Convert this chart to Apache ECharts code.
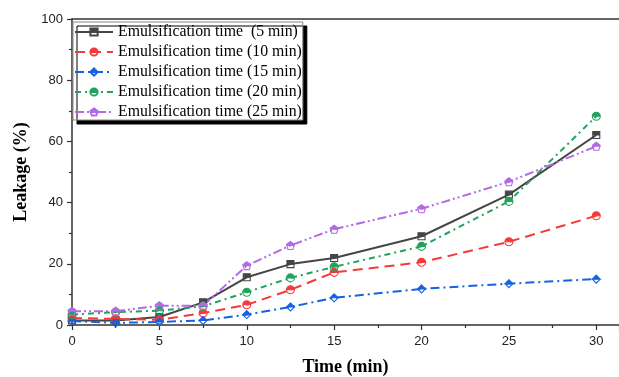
<!DOCTYPE html>
<html>
<head>
<meta charset="utf-8">
<script src="https://cdn.jsdelivr.net/npm/echarts@6/dist/echarts.min.js"></script>
<style>
  html, body { margin: 0; padding: 0; background: #fff; }
  #chart { width: 619px; height: 377px; }
</style>
</head>
<body>
<div id="chart"></div>
<script>
// time points (min)
var times = [0, 2.5, 5, 7.5, 10, 12.5, 15, 20, 25, 30];
var seriesNames = [
  'Emulsification time  (5 min)',
  'Emulsification time (10 min)',
  'Emulsification time (15 min)',
  'Emulsification time (20 min)',
  'Emulsification time (25 min)'
];
// leakage (%)
var leak5  = [1.5, 1.5, 2.6, 7.4, 15.6, 19.9, 21.9, 29.0, 42.6, 62.1];
var leak10 = [2.3, 2.0, 1.7, 3.9, 6.6, 11.5, 17.2, 20.5, 27.2, 35.7];
var leak15 = [1.3, 0.7, 1.0, 1.5, 3.4, 5.9, 8.9, 11.8, 13.5, 15.0];
var leak20 = [3.4, 4.2, 4.7, 6.1, 10.7, 15.4, 19.0, 25.7, 40.4, 68.2];
var leak25 = [4.5, 4.5, 6.3, 6.3, 19.4, 26.0, 31.3, 38.0, 46.8, 58.4];
var yTicks = [0, 20, 40, 60, 80, 100];
var xTicks = [0, 5, 10, 15, 20, 25, 30];

// half filled markers (top half filled, bottom half outline only)
var symSquare = 'path://M0,0 L10,0 L10,5 L0,5 Z M0,5 L0,10 L10,10 L10,5 L10,10 L0,10 L0,5';
var symCircle = 'path://M0,5 C0,2.24 2.24,0 5,0 C7.76,0 10,2.24 10,5 Z M0,5 C0,7.76 2.24,10 5,10 C7.76,10 10,7.76 10,5 C10,7.76 7.76,10 5,10 C2.24,10 0,7.76 0,5';
var symDiamond = 'path://M5,0 L10,5 L0,5 Z M0,5 L5,10 L10,5 L5,10 L0,5';
var symPent = 'path://M5,0 L10,3.8 L9.63,5 L0.37,5 L0,3.8 Z M0.37,5 L1.9,10 L8.1,10 L9.63,5 L8.1,10 L1.9,10 L0.37,5';

function pairs(vals) {
  return vals.map(function (v, i) { return [times[i], v]; });
}

function makeSeries(name, vals, color, dash, symbol, size) {
  return {
    name: name,
    type: 'line',
    data: pairs(vals),
    symbol: symbol,
    symbolSize: size,
    showAllSymbol: true,
    lineStyle: { color: color, width: 2, type: dash },
    itemStyle: { color: color, borderColor: color, borderWidth: 1.1 }
  };
}

var chart = echarts.init(document.getElementById('chart'));
var axisColor = '#333';
var option = {
  backgroundColor: '#fff',
  animation: false,
  grid: { left: 72, right: 0, top: 19, bottom: 52, outerBoundsMode: 'none' },
  legend: {
    orient: 'vertical',
    left: 73,
    top: 22,
    data: seriesNames,
    itemWidth: 38,
    itemHeight: 9,
    itemGap: 4,
    padding: [2, 1, 0, 1],
    backgroundColor: '#fff',
    borderColor: '#888',
    borderWidth: 1,
    shadowColor: '#000',
    shadowBlur: 0,
    shadowOffsetX: 4,
    shadowOffsetY: 4,
    textStyle: { fontFamily: '"Liberation Serif", "Times New Roman", serif', fontSize: 15.8, color: '#000' }
  },
  xAxis: [{
    type: 'value',
    min: 0,
    max: 31.3,
    interval: 5,
    name: 'Time (min)',
    nameLocation: 'middle',
    nameGap: 33,
    nameTextStyle: { fontFamily: '"Liberation Serif", "Times New Roman", serif', fontWeight: 'bold', fontSize: 18, color: '#000' },
    axisLine: { show: true, onZero: false, lineStyle: { color: axisColor, width: 1.5 } },
    axisTick: { show: true, inside: false, length: 5, lineStyle: { color: axisColor, width: 1.2 } },
    minorTick: { show: true, splitNumber: 2, length: 3, lineStyle: { color: axisColor, width: 1.2 } },
    axisLabel: {
      margin: 10, fontFamily: 'Arial, "Liberation Sans", sans-serif', fontSize: 13, color: '#222',
      showMaxLabel: false,
      formatter: function (v) { return xTicks.indexOf(v) >= 0 ? String(v) : ''; }
    },
    splitLine: { show: false }
  }, {
    type: 'value',
    position: 'top',
    min: 0,
    max: 31.3,
    axisLine: { show: true, onZero: false, lineStyle: { color: axisColor, width: 1.5 } },
    axisTick: { show: false },
    axisLabel: { show: false },
    splitLine: { show: false }
  }],
  yAxis: {
    type: 'value',
    min: 0,
    max: 100,
    interval: 20,
    name: 'Leakage (%)',
    nameLocation: 'middle',
    nameGap: 42,
    nameTextStyle: { fontFamily: '"Liberation Serif", "Times New Roman", serif', fontWeight: 'bold', fontSize: 18, color: '#000' },
    axisLine: { show: true, onZero: false, lineStyle: { color: axisColor, width: 1.5 } },
    axisTick: { show: true, inside: false, length: 5, lineStyle: { color: axisColor, width: 1.2 } },
    minorTick: { show: true, splitNumber: 2, length: 3, lineStyle: { color: axisColor, width: 1.2 } },
    axisLabel: {
      margin: 9, fontFamily: 'Arial, "Liberation Sans", sans-serif', fontSize: 13, color: '#222',
      formatter: function (v) { return yTicks.indexOf(v) >= 0 ? String(v) : ''; }
    },
    splitLine: { show: false }
  },
  series: [
    makeSeries(seriesNames[0], leak5, '#454545', 'solid', symSquare, 7),
    makeSeries(seriesNames[1], leak10, '#f53a3a', [10, 6], symCircle, 8),
    makeSeries(seriesNames[2], leak15, '#1563e3', [9, 4, 2, 4], symDiamond, 8),
    makeSeries(seriesNames[3], leak20, '#20a35c', [6, 4, 2, 4], symCircle, 8),
    makeSeries(seriesNames[4], leak25, '#b36ae6', [9, 3, 2, 3, 2, 3], symPent, 8)
  ]
};
chart.setOption(option);
</script>
</body>
</html>
